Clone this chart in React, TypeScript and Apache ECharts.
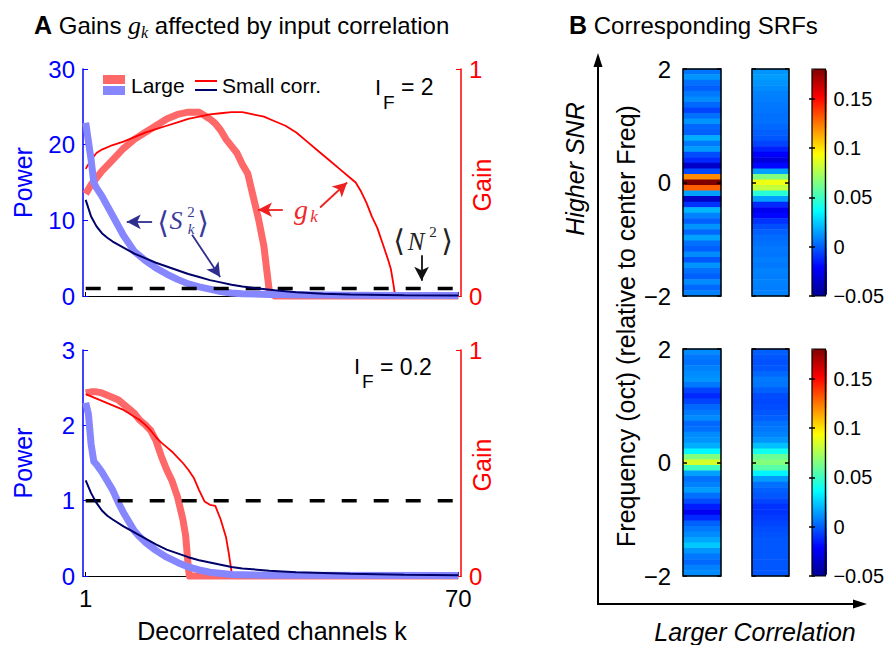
import React, { useEffect, useRef } from 'react';
import * as echarts from 'echarts';

const SANS = '"Liberation Sans", Arial, Helvetica, sans-serif';
const SERIF = '"Liberation Serif", "DejaVu Serif", serif';

// ---------- Panel A data: [k, value] ----------
const kTickValues = [1, 70];

// Top panel (I_F = 2)
const gainLargeTop = [[1,0.45],[2,0.49],[3,0.52],[4,0.55],[6,0.6],[8,0.65],[10,0.69],[12,0.72],[14,0.75],[16,0.78],[18,0.8],[20,0.81],[22,0.81],[24,0.78],[25,0.76],[26,0.73],[27,0.69],[28,0.66],[29,0.63],[30,0.58],[31,0.54],[32,0.44],[33,0.34],[34,0.22],[34.5,0.12],[35,0.02],[36,0],[70,0]];
const gainSmallTop = [[1,0.56],[2,0.6],[3,0.63],[4,0.645],[6,0.665],[8,0.68],[10,0.7],[12,0.72],[14,0.735],[16,0.75],[18,0.765],[20,0.78],[22,0.79],[24,0.8],[26,0.805],[28,0.81],[30,0.81],[32,0.8],[34,0.79],[36,0.77],[38,0.75],[40,0.72],[42,0.68],[44,0.64],[46,0.6],[48,0.56],[50,0.52],[51,0.5],[52,0.46],[53,0.41],[54,0.35],[55,0.3],[56,0.23],[57,0.16],[57.5,0.12],[58,0.05],[58.3,0],[70,0]];
const powerLargeTop = [[1,22.9],[2,18],[2.5,15],[3,14.3],[4,13.2],[6,10.6],[8,8.0],[10,5.9],[12,4.7],[14,3.7],[16,2.9],[18,2.2],[20,1.6],[22,1.2],[24,0.9],[26,0.6],[28,0.4],[30,0.3],[35,0.2],[40,0.15],[50,0.1],[60,0.08],[70,0.05]];
const powerSmallTop = [[1,12.7],[2,10.5],[3,9.2],[4,8.3],[5,7.7],[6,7.2],[8,6.4],[10,5.6],[12,5.0],[14,4.4],[16,3.9],[18,3.4],[20,2.9],[22,2.5],[24,2.1],[26,1.8],[28,1.5],[30,1.25],[33,1.0],[36,0.75],[40,0.5],[45,0.3],[50,0.2],[60,0.1],[70,0.06]];
const noiseTop = [[1,1],[70,1]];

// Bottom panel (I_F = 0.2)
const gainLargeBottom = [[1,0.81],[2,0.815],[3,0.815],[4,0.81],[5,0.8],[6,0.79],[7,0.78],[8,0.76],[9,0.74],[10,0.72],[11,0.69],[12,0.67],[13,0.645],[14,0.6],[15,0.53],[16,0.47],[17,0.42],[18,0.35],[19,0.25],[19.5,0.18],[20,0.04],[20.2,0],[70,0]];
const gainSmallBottom = [[1,0.805],[2,0.795],[3,0.785],[4,0.775],[5,0.765],[6,0.755],[7,0.745],[8,0.735],[9,0.72],[10,0.705],[11,0.69],[12,0.67],[13,0.645],[14,0.615],[15,0.59],[16,0.57],[17,0.55],[18,0.525],[19,0.5],[20,0.47],[21,0.435],[22,0.38],[23,0.33],[24,0.315],[25,0.31],[26,0.25],[27,0.17],[27.5,0.1],[28,0.02],[28.2,0],[70,0]];
const powerLargeBottom = [[1,2.3],[1.5,2.15],[2,1.75],[2.5,1.52],[3,1.48],[4,1.38],[5,1.26],[6,1.14],[7,0.98],[8,0.84],[9,0.72],[10,0.6],[11,0.52],[12,0.45],[14,0.34],[16,0.25],[18,0.18],[20,0.12],[22,0.08],[24,0.05],[28,0.02],[35,0.01],[70,0.005]];
const powerSmallBottom = [[1,1.27],[2,1.1],[3,0.97],[4,0.87],[5,0.8],[6,0.75],[8,0.66],[10,0.58],[12,0.5],[14,0.42],[16,0.35],[18,0.3],[20,0.25],[22,0.21],[24,0.18],[26,0.15],[28,0.12],[30,0.1],[35,0.07],[40,0.05],[50,0.03],[60,0.015],[70,0.01]];
const noiseBottom = [[1,1],[70,1]];

// ---------- Panel B data: SRF rows from +2 oct (top) to -2 oct (bottom) ----------
const freqRows = ['2.0','1.9','1.8','1.7','1.6','1.5','1.4','1.3','1.2','1.1','1.0','0.9','0.8','0.7','0.6','0.5','0.4','0.3','0.2','0.1','0.0','-0.1','-0.2','-0.3','-0.4','-0.5','-0.6','-0.7','-0.8','-0.9','-1.0','-1.1','-1.2','-1.3','-1.4','-1.5','-1.6','-1.7','-1.8','-1.9','-2.0'];
const srfTopLeft = [0.005,0.012,0.004,0.0,0.006,0.01,0.002,-0.006,0.004,0.012,0.002,0.0,0.018,0.006,0.014,-0.004,-0.012,-0.035,-0.005,0.12,0.18,0.13,0.015,-0.035,-0.01,0.02,0.008,0.0,0.012,0.002,0.015,0.004,0.0,0.01,-0.002,0.012,0.004,0.0,0.01,0.002,0.008];
const srfTopRight = [0.012,0.014,0.012,0.01,0.008,0.007,0.006,0.005,0.004,0.004,0.002,0.0,-0.002,-0.006,-0.014,-0.022,-0.03,-0.02,0.015,0.065,0.09,0.08,0.045,0.015,-0.012,-0.025,-0.02,-0.01,-0.004,0.0,0.003,0.004,0.006,0.005,0.007,0.006,0.008,0.007,0.008,0.007,0.008];
const srfBottomLeft = [0.01,0.006,0.004,0.008,0.01,0.012,0.006,-0.006,-0.012,-0.006,0.002,0.006,0.01,0.002,0.004,0.01,0.012,0.018,0.035,0.065,0.085,0.05,0.015,0.004,0.008,0.014,0.004,-0.004,-0.015,-0.025,-0.012,0.0,0.006,0.01,0.016,0.024,0.012,0.006,0.002,0.008,0.01];
const srfBottomRight = [0.0,-0.002,-0.003,-0.002,0.002,0.006,0.005,0.0,-0.004,-0.005,-0.004,-0.002,0.0,0.004,0.006,0.008,0.012,0.022,0.04,0.06,0.066,0.056,0.034,0.014,0.004,0.0,-0.002,-0.006,-0.01,-0.01,-0.008,-0.006,-0.004,-0.003,-0.002,-0.002,-0.002,-0.002,-0.002,-0.002,-0.002];
const colorbarTicks = [-0.05, 0, 0.05, 0.1, 0.15];
const colorMin = -0.05;
const colorMax = 0.18;

const jet = ['#00008f','#0000ff','#0080ff','#00ffff','#80ff80','#ffff00','#ff8000','#ff0000','#800000'];

const RED_THICK = '#ff6868';
const BLUE_THICK = '#8686ff';
const RED_THIN = '#ff0000';
const NAVY = '#00006a';

const minusFmt = (v: number) => (v < 0 ? '\u2212' + String(Math.abs(v)) : String(v));

function text(x: number, y: number, t: string, font: string, fill = '#000', align = 'center', extra: any = {}) {
  return {
    type: 'text', x, y, silent: true, z: 100, ...extra,
    style: { text: t, font, fill, align, verticalAlign: 'middle', textAlign: align, textVerticalAlign: 'middle' },
  };
}

export default function App() {
  const ref = useRef<HTMLDivElement>(null);
  useEffect(() => {
    if (!ref.current) return;
    const chart = echarts.init(ref.current, null, { renderer: 'svg' });

    const lineBase = { type: 'line', symbol: 'none', silent: true, clip: false, emphasis: { disabled: true } };
    const heatGrid = { show: true, z: 10, backgroundColor: 'transparent', borderColor: '#000', borderWidth: 1.5 };
    const panelXAxis = (gridIndex: number, showLabels: boolean) => ({
      type: 'value', gridIndex, min: 0.5, max: 70.5,
      axisLine: { show: true, onZero: false, lineStyle: { color: '#000', width: 1.2 } },
      axisTick: { show: true, inside: true, length: 4, customValues: kTickValues, lineStyle: { color: '#000' } },
      axisLabel: { show: showLabels, customValues: kTickValues, fontSize: 24, color: '#000', fontFamily: SANS, margin: 10 },
      splitLine: { show: false },
      name: showLabels ? 'Decorrelated channels k' : '',
      nameLocation: 'middle', nameGap: 42,
      nameTextStyle: { fontSize: 25, color: '#000', fontFamily: SANS },
    });
    const powerAxis = (gridIndex: number, max: number, interval: number) => ({
      type: 'value', gridIndex, position: 'left', min: 0, max, interval,
      axisLine: { show: true, onZero: false, lineStyle: { color: '#0000ff', width: 1.5 } },
      axisTick: { show: true, inside: true, length: 5, lineStyle: { color: '#0000ff' } },
      axisLabel: { fontSize: 24, color: '#0000ff', fontFamily: SANS, margin: 8 },
      splitLine: { show: false },
      name: 'Power', nameLocation: 'middle', nameRotate: 90, nameGap: 48,
      nameTextStyle: { fontSize: 25, color: '#0000ff', fontFamily: SANS },
    });
    const gainAxis = (gridIndex: number) => ({
      type: 'value', gridIndex, position: 'right', min: 0, max: 1, interval: 1,
      axisLine: { show: true, onZero: false, lineStyle: { color: '#ff0000', width: 1.5 } },
      axisTick: { show: true, inside: true, length: 5, lineStyle: { color: '#ff0000' } },
      axisLabel: { fontSize: 24, color: '#ff0000', fontFamily: SANS, margin: 8 },
      splitLine: { show: false },
    });
    const heatCatX = (gridIndex: number) => ({ type: 'category', gridIndex, data: ['c'], show: false, boundaryGap: true });
    const heatCatY = (gridIndex: number) => ({ type: 'category', gridIndex, data: freqRows, inverse: true, show: false });
    const freqAxis = (gridIndex: number, position: string, showLabels: boolean) => ({
      type: 'value', gridIndex, position, min: -2, max: 2, interval: 2, z: 12,
      axisLine: { show: false },
      axisTick: { show: true, inside: true, length: 4, lineStyle: { color: '#000', width: 1.5 } },
      axisLabel: { show: showLabels, fontSize: 24, color: '#000', fontFamily: SANS, margin: 12, formatter: minusFmt },
      splitLine: { show: false },
    });
    const cbAxis = (gridIndex: number, position: string, showLabels: boolean) => ({
      type: 'value', gridIndex, position, min: colorMin, max: colorMax, z: 12,
      axisLine: { show: false },
      axisTick: { show: true, inside: true, length: 3, customValues: colorbarTicks, lineStyle: { color: '#000', width: 1.5 } },
      axisLabel: { show: showLabels, customValues: colorbarTicks, fontSize: 20, color: '#000', fontFamily: SANS, margin: 8, formatter: minusFmt },
      splitLine: { show: false },
    });
    const cbX = (gridIndex: number) => ({ type: 'value', gridIndex, min: 0, max: 1, show: false });

    const heat = (xi: number, yi: number, vals: number[]) => ({
      type: 'heatmap', xAxisIndex: xi, yAxisIndex: yi, silent: true,
      data: vals.map((v, i) => [0, i, v]),
      emphasis: { disabled: true }, itemStyle: { borderWidth: 0 }, progressive: 0,
    });

    const arrowLine = (color: string, data: any[]) => ({
      silent: true, symbol: ['none', 'arrow'], symbolSize: [11, 14],
      label: { show: false }, emphasis: { disabled: true },
      lineStyle: { color, width: 1.8, type: 'solid' }, data,
    });

    const option: any = {
      animation: false,
      backgroundColor: '#fff',
      textStyle: { fontFamily: SANS },
      grid: [
        { left: 83, top: 69, width: 378, height: 227 },
        { left: 83, top: 350, width: 378, height: 226 },
        { left: 683, top: 69, width: 38, height: 227, ...heatGrid },
        { left: 752, top: 69, width: 37, height: 227, ...heatGrid },
        { left: 683, top: 349, width: 38, height: 227, ...heatGrid },
        { left: 752, top: 349, width: 37, height: 227, ...heatGrid },
        { left: 812, top: 69, width: 15, height: 227, ...heatGrid, borderWidth: 1.2 },
        { left: 812, top: 349, width: 15, height: 227, ...heatGrid, borderWidth: 1.2 },
      ],
      xAxis: [
        panelXAxis(0, false), panelXAxis(1, true),
        heatCatX(2), heatCatX(3), heatCatX(4), heatCatX(5),
        cbX(6), cbX(7),
      ],
      yAxis: [
        powerAxis(0, 30, 10), gainAxis(0), powerAxis(1, 3, 1), gainAxis(1),
        heatCatY(2), heatCatY(3), heatCatY(4), heatCatY(5),
        freqAxis(2, 'left', true), freqAxis(3, 'left', false), freqAxis(4, 'left', true), freqAxis(5, 'left', false),
        freqAxis(2, 'right', false), freqAxis(3, 'right', false), freqAxis(4, 'right', false), freqAxis(5, 'right', false),
        cbAxis(6, 'right', true), cbAxis(7, 'right', true), cbAxis(6, 'left', false), cbAxis(7, 'left', false),
      ],
      visualMap: [
        { type: 'continuous', min: colorMin, max: colorMax, seriesIndex: [10, 11], dimension: 2, inRange: { color: jet },
          left: 812, top: 69, itemWidth: 15, itemHeight: 227, padding: 0, calculable: false, hoverLink: false, realtime: false, text: ['', ''], showLabel: false },
        { type: 'continuous', min: colorMin, max: colorMax, seriesIndex: [12, 13], dimension: 2, inRange: { color: jet },
          left: 812, top: 349, itemWidth: 15, itemHeight: 227, padding: 0, calculable: false, hoverLink: false, realtime: false, text: ['', ''], showLabel: false },
      ],
      series: [
        { ...lineBase, name: 'gainLargeTop', xAxisIndex: 0, yAxisIndex: 1, data: gainLargeTop, lineStyle: { color: RED_THICK, width: 7, join: 'round' }, z: 2 },
        { ...lineBase, name: 'gainSmallTop', xAxisIndex: 0, yAxisIndex: 1, data: gainSmallTop, lineStyle: { color: RED_THIN, width: 1.8 }, z: 3,
          markLine: arrowLine('#ee2020', [
            [{ coord: [37.5, 0.38] }, { coord: [32.9, 0.38] }],
            [{ coord: [44.4, 0.39] }, { coord: [49.4, 0.5] }],
          ]) },
        { ...lineBase, name: 'powerLargeTop', xAxisIndex: 0, yAxisIndex: 0, data: powerLargeTop, lineStyle: { color: BLUE_THICK, width: 7, join: 'round' }, z: 4 },
        { ...lineBase, name: 'noiseTop', xAxisIndex: 0, yAxisIndex: 0, data: noiseTop, lineStyle: { color: '#000', width: 3.5, type: [15, 17] }, z: 5,
          markLine: arrowLine('#111', [[{ coord: [63.2, 5.4] }, { coord: [63.2, 2.0] }]]) },
        { ...lineBase, name: 'powerSmallTop', xAxisIndex: 0, yAxisIndex: 0, data: powerSmallTop, lineStyle: { color: NAVY, width: 2 }, z: 6,
          markLine: arrowLine('#2e2e8e', [
            [{ coord: [13.3, 9.8] }, { coord: [8.6, 9.8] }],
            [{ coord: [20.7, 8.1] }, { coord: [25.9, 2.5] }],
          ]) },
        { ...lineBase, name: 'gainLargeBottom', xAxisIndex: 1, yAxisIndex: 3, data: gainLargeBottom, lineStyle: { color: RED_THICK, width: 7, join: 'round' }, z: 2 },
        { ...lineBase, name: 'gainSmallBottom', xAxisIndex: 1, yAxisIndex: 3, data: gainSmallBottom, lineStyle: { color: RED_THIN, width: 1.8 }, z: 3 },
        { ...lineBase, name: 'powerLargeBottom', xAxisIndex: 1, yAxisIndex: 2, data: powerLargeBottom, lineStyle: { color: BLUE_THICK, width: 7, join: 'round' }, z: 4 },
        { ...lineBase, name: 'noiseBottom', xAxisIndex: 1, yAxisIndex: 2, data: noiseBottom, lineStyle: { color: '#000', width: 3.5, type: [15, 17] }, z: 5 },
        { ...lineBase, name: 'powerSmallBottom', xAxisIndex: 1, yAxisIndex: 2, data: powerSmallBottom, lineStyle: { color: NAVY, width: 2 }, z: 6 },
        heat(2, 4, srfTopLeft),
        heat(3, 5, srfTopRight),
        heat(4, 6, srfBottomLeft),
        heat(5, 7, srfBottomRight),
      ],
      graphic: [
        // Titles
        {
          type: 'text', x: 34, y: 25, silent: true,
          style: {
            text: '{b|A} Gains {g|g}{k|k} affected by input correlation',
            font: `24px ${SANS}`, fill: '#000', verticalAlign: 'middle', textVerticalAlign: 'middle',
            rich: {
              b: { fontWeight: 'bold', fontSize: 25, fontFamily: SANS },
              g: { fontStyle: 'italic', fontSize: 26, fontFamily: SERIF, lineHeight: 30 },
              k: { fontStyle: 'italic', fontSize: 16, fontFamily: SERIF, verticalAlign: 'bottom', lineHeight: 30 },
            },
          },
        },
        {
          type: 'text', x: 569, y: 25, silent: true,
          style: {
            text: '{b|B} Corresponding SRFs', font: `24px ${SANS}`, fill: '#000', verticalAlign: 'middle', textVerticalAlign: 'middle',
            rich: { b: { fontWeight: 'bold', fontSize: 25, fontFamily: SANS } },
          },
        },
        // Right-axis names
        text(482, 185, 'Gain', `25px ${SANS}`, '#ff0000', 'center', { rotation: Math.PI / 2 }),
        text(482, 465, 'Gain', `25px ${SANS}`, '#ff0000', 'center', { rotation: Math.PI / 2 }),
        // Legend
        { type: 'rect', shape: { x: 103, y: 75, width: 22, height: 9 }, style: { fill: RED_THICK }, silent: true },
        { type: 'rect', shape: { x: 103, y: 86, width: 22, height: 9 }, style: { fill: BLUE_THICK }, silent: true },
        text(131, 85, 'Large', `21px ${SANS}`, '#000', 'left'),
        { type: 'line', shape: { x1: 195, y1: 81, x2: 217, y2: 81 }, style: { stroke: RED_THIN, lineWidth: 2 }, silent: true },
        { type: 'line', shape: { x1: 195, y1: 90, x2: 217, y2: 90 }, style: { stroke: NAVY, lineWidth: 2 }, silent: true },
        text(222, 85, 'Small corr.', `21px ${SANS}`, '#000', 'left'),
        // I_F labels
        text(375, 87, 'I', `22px ${SANS}`, '#000', 'left'),
        text(383, 102, 'F', `19px ${SANS}`, '#000', 'left'),
        text(401, 87, '= 2', `23px ${SANS}`, '#000', 'left'),
        text(354, 366, 'I', `22px ${SANS}`, '#000', 'left'),
        text(362, 381, 'F', `19px ${SANS}`, '#000', 'left'),
        text(380, 367, '= 0.2', `23px ${SANS}`, '#000', 'left'),
        // <S_k^2>
        text(163, 222, '\u27E8', `30px ${SERIF}`, '#3a3a9c'),
        text(176, 220, 'S', `italic 26px ${SERIF}`, '#3a3a9c'),
        text(191, 212, '2', `15px ${SERIF}`, '#3a3a9c'),
        text(191, 229, 'k', `italic 15px ${SERIF}`, '#3a3a9c'),
        text(203, 222, '\u27E9', `30px ${SERIF}`, '#3a3a9c'),
        // g_k
        text(301, 209, 'g', `italic 28px ${SERIF}`, '#ee2a2a'),
        text(314, 216, 'k', `italic 17px ${SERIF}`, '#ee2a2a'),
        // <N^2>
        text(399, 240, '\u27E8', `30px ${SERIF}`, '#222'),
        text(416, 241, 'N', `italic 25px ${SERIF}`, '#222'),
        text(433, 232, '2', `15px ${SERIF}`, '#222'),
        text(447, 240, '\u27E9', `30px ${SERIF}`, '#222'),
        // Panel B axes arrows
        { type: 'line', shape: { x1: 598, y1: 604, x2: 598, y2: 64 }, style: { stroke: '#000', lineWidth: 2 }, silent: true },
        { type: 'polygon', shape: { points: [[598, 53], [593.5, 67], [602.5, 67]] }, style: { fill: '#000' }, silent: true },
        { type: 'line', shape: { x1: 597, y1: 604, x2: 856, y2: 604 }, style: { stroke: '#000', lineWidth: 2 }, silent: true },
        { type: 'polygon', shape: { points: [[867, 604], [853, 599.5], [853, 608.5]] }, style: { fill: '#000' }, silent: true },
        text(575, 169, 'Higher SNR', `italic 25px ${SANS}`, '#000', 'center', { rotation: Math.PI / 2 }),
        text(626, 326, 'Frequency (oct) (relative to center Freq)', `25px ${SANS}`, '#000', 'center', { rotation: Math.PI / 2 }),
        text(755, 632, 'Larger Correlation', `italic 25px ${SANS}`, '#000', 'center'),
      ],
    };

    chart.setOption(option);
    return () => chart.dispose();
  }, []);

  return <div ref={ref} style={{ position: 'fixed', left: 0, top: 0, width: 887, height: 645 }} />;
}
